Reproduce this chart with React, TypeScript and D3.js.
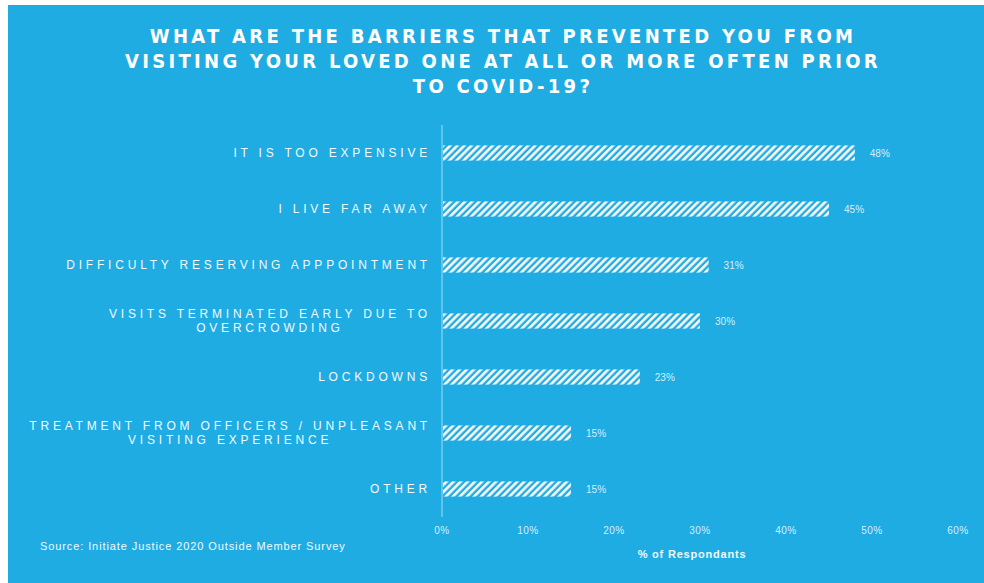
import React from "react";
import * as d3 from "d3";

const categories: string[][] = [
  ["IT IS TOO EXPENSIVE"],
  ["I LIVE FAR AWAY"],
  ["DIFFICULTY RESERVING APPPOINTMENT"],
  ["VISITS TERMINATED EARLY DUE TO", "OVERCROWDING"],
  ["LOCKDOWNS"],
  ["TREATMENT FROM OFFICERS / UNPLEASANT", "VISITING EXPERIENCE"],
  ["OTHER"],
];
const values: number[] = [48, 45, 31, 30, 23, 15, 15];
const ticks: number[] = [0, 10, 20, 30, 40, 50, 60];
const titleLines: string[] = [
  "WHAT ARE THE BARRIERS THAT PREVENTED YOU FROM",
  "VISITING YOUR LOVED ONE AT ALL OR MORE OFTEN PRIOR",
  "TO COVID-19?",
];

const W = 984;
const H = 583;
const BG = "#1FACE3";
const LIGHT = "#D6EEF9";

export default function App() {
  const x = d3.scaleLinear().domain([0, 60]).range([442, 958]);
  const y = d3
    .scaleBand<number>()
    .domain(values.map((_, i) => i))
    .range([125, 517])
    .paddingInner(0.73)
    .paddingOuter(0.365);
  const bw = y.bandwidth();

  return (
    <svg
      width={W}
      height={H}
      style={{ position: "absolute", left: 0, top: 0 }}
    >
      <defs>
        <pattern
          id="hatch"
          width={5}
          height={5}
          patternUnits="userSpaceOnUse"
          patternTransform="rotate(45)"
        >
          <rect width={5} height={5} fill={BG} />
          <rect width={2.6} height={5} fill="#FFFFFF" />
        </pattern>
      </defs>
      <rect x={0} y={0} width={W} height={H} fill="#FFFFFF" />
      <rect x={8} y={5} width={W - 8} height={H - 5} fill={BG} />

      <g
        fill="#FFFFFF"
        fontFamily="'DejaVu Sans Condensed', 'DejaVu Sans', sans-serif"
        fontStretch="condensed"
        fontSize={20}
        fontWeight={600}
        textAnchor="middle"
        letterSpacing={3.3}
      >
        {titleLines.map((t, i) => (
          <text key={i} x={503} y={43 + i * 25}>
            {t}
          </text>
        ))}
      </g>

      <line x1={x(0)} x2={x(0)} y1={125} y2={517} stroke="#A8DBF1" strokeWidth={1} />

      {values.map((v, i) => {
        const yc = (y(i) as number) + bw / 2;
        return (
          <g key={i}>
            <rect
              x={x(0) + 1}
              y={y(i)}
              width={x(v) - x(0) - 1}
              height={bw}
              fill="url(#hatch)"
            />
            <text
              x={x(v) + 15}
              y={yc + 4}
              fill={LIGHT}
              fontFamily="'Liberation Sans', Arial, sans-serif"
              fontSize={10}
            >
              {v}%
            </text>
          </g>
        );
      })}

      <g
        fill="#F2FAFE"
        fontFamily="'Liberation Sans', Arial, sans-serif"
        fontSize={12}
        letterSpacing={3.8}
      >
        {categories.map((lines, i) => {
          const yc = (y(i) as number) + bw / 2;
          const n = lines.length;
          return lines.map((l, j) => {
            const ly = yc + 4 + (j - (n - 1) / 2) * 14;
            if (j === 0) {
              return (
                <text key={`${i}-${j}`} x={431} y={ly} textAnchor="end">
                  {l}
                </text>
              );
            }
            return (
              <text
                key={`${i}-${j}`}
                x={431}
                y={ly}
                textAnchor="end"
                ref={(el) => {
                  if (!el) return;
                  const prev = el.previousSibling as SVGTextElement | null;
                  if (prev && prev.getComputedTextLength) {
                    const w0 = prev.getComputedTextLength();
                    const w1 = el.getComputedTextLength();
                    el.setAttribute("x", String(431 - (w0 - w1) / 2));
                  }
                }}
              >
                {l}
              </text>
            );
          });
        })}
      </g>

      <g
        fill={LIGHT}
        fontFamily="'Liberation Sans', Arial, sans-serif"
        fontSize={10}
        textAnchor="middle"
        letterSpacing={0.5}
      >
        {ticks.map((t) => (
          <text key={t} x={x(t)} y={534}>
            {t}%
          </text>
        ))}
      </g>
      <text
        x={692}
        y={558}
        fill="#F2FAFE"
        fontFamily="'Liberation Sans', Arial, sans-serif"
        fontSize={11}
        fontWeight={600}
        letterSpacing={0.8}
        textAnchor="middle"
      >
        % of Respondants
      </text>
      <text
        x={40}
        y={550}
        fill="#F2FAFE"
        fontFamily="'Liberation Sans', Arial, sans-serif"
        fontSize={11}
        letterSpacing={0.9}
      >
        Source: Initiate Justice 2020 Outside Member Survey
      </text>
    </svg>
  );
}
